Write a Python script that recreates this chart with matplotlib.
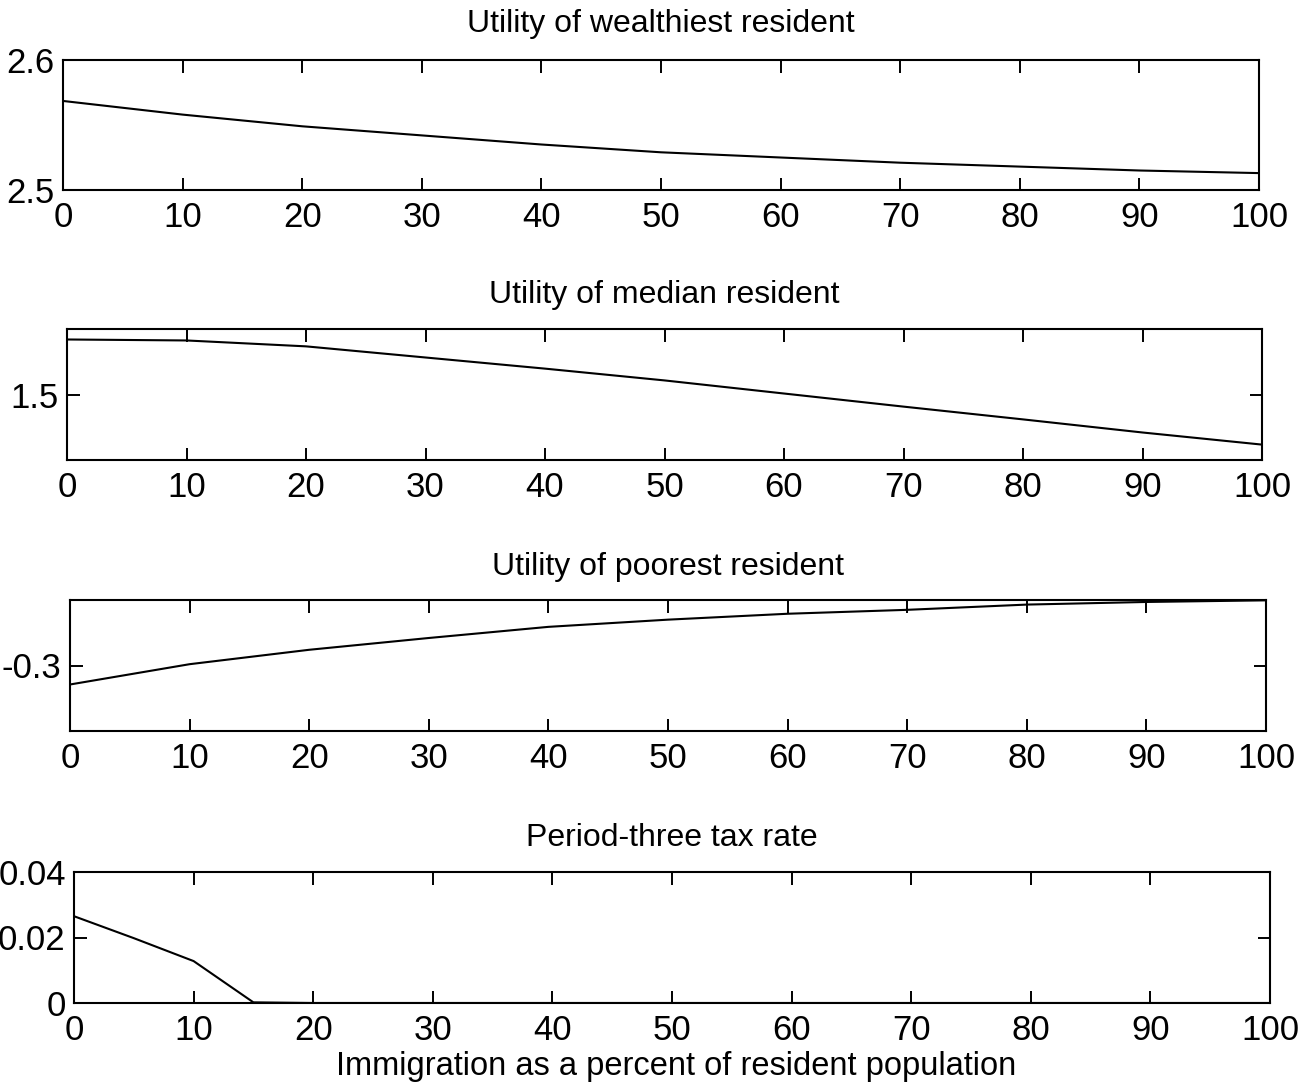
import numpy as np
import matplotlib.pyplot as plt

plt.rcParams['font.family'] = ['Liberation Sans', 'DejaVu Sans']

# immigration (% of resident population)
x = [0, 10, 20, 30, 40, 50, 60, 70, 80, 90, 100]
x_tax = [0, 5, 10, 15, 20, 30, 40, 50, 60, 70, 80, 90, 100]

u_wealthy = [2.5685, 2.558, 2.549, 2.542, 2.535, 2.529, 2.525, 2.521, 2.518, 2.515, 2.513]
u_median = [1.668, 1.665, 1.647, 1.613, 1.579, 1.543, 1.503, 1.463, 1.424, 1.384, 1.347]
u_poor = [-0.329, -0.298, -0.276, -0.258, -0.241, -0.230, -0.221, -0.215, -0.207, -0.203, -0.2005]
tax3 = [0.0265, 0.0198, 0.0128, 0.0002, 0, 0, 0, 0, 0, 0, 0, 0, 0]

titles = ['Utility of wealthiest resident', 'Utility of median resident',
          'Utility of poorest resident', 'Period-three tax rate']
xticks = [0, 10, 20, 30, 40, 50, 60, 70, 80, 90, 100]

W, H = 1315, 1086
fig = plt.figure(figsize=(W / 100, H / 100), dpi=100)

# panel boxes in pixels: left, right, top, bottom
boxes = [(63, 1259, 60, 190), (67, 1262, 329, 460),
         (70, 1266, 600, 731), (74, 1270, 872, 1003)]
title_y = [24, 295, 567, 838]

panels = [
    (x, u_wealthy, (2.5, 2.6), [2.5, 2.6], ['2.5', '2.6']),
    (x, u_median, (1.3, 1.7), [1.5], ['1.5']),
    (x, u_poor, (-0.4, -0.2), [-0.3], ['-0.3']),
    (x_tax, tax3, (0, 0.04), [0, 0.02, 0.04], ['0', '0.02', '0.04']),
]

for (l, r, t, b), ty, name, (xs, ys, ylim, yt, ytl) in zip(boxes, title_y, titles, panels):
    ax = fig.add_axes([l / W, 1 - b / H, (r - l) / W, (b - t) / H])
    ax.plot(xs, ys, color='black', lw=1.5)
    ax.set_xlim(0, 100)
    ax.set_ylim(*ylim)
    ax.set_xticks(xticks)
    ax.set_yticks(yt)
    ax.set_yticklabels(ytl)
    ax.tick_params(direction='in', top=True, right=True, length=9, width=1.4,
                   labelsize=25)
    ax.tick_params(axis='x', pad=8)
    ax.tick_params(axis='y', pad=6)
    for s in ax.spines.values():
        s.set_linewidth(1.5)
    fig.text((l + r) / 2 / W, 1 - ty / H, name, ha='center', va='center', fontsize=23)

fig.text(676 / W, 1 - 1067 / H, 'Immigration as a percent of resident population',
         ha='center', va='center', fontsize=23.5)

fig.savefig('out.png', dpi=100)
plt.close(fig)
